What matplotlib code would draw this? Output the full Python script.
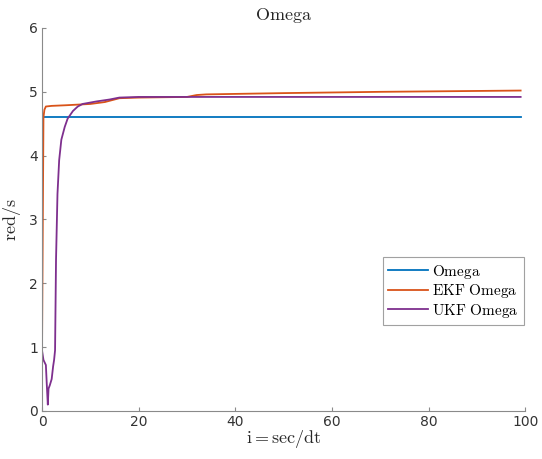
import matplotlib.pyplot as plt

# Values
omega_x = [0, 99]
omega_y = [4.60, 4.60]

ekf_x = [0.0, 0.15, 0.3, 0.5, 0.8, 2.0, 5.0, 10.0, 13.0, 16.0, 20.0, 30.0, 32.0, 34.0, 50.0, 70.0, 99.0]
ekf_y = [0.90, 2.80, 4.60, 4.72, 4.77, 4.78, 4.79, 4.81, 4.84, 4.90, 4.91, 4.92, 4.95, 4.96, 4.98, 5.00, 5.02]

ukf_x = [0.0, 0.3, 0.8, 1.0, 1.2, 1.35, 1.6, 2.0, 2.3, 2.5, 2.7, 2.9, 3.2, 3.55, 4.0, 4.7, 5.3, 6.4, 7.4, 8.4, 11.3, 14.0, 16.0, 20.0, 99.0]
ukf_y = [0.95, 0.80, 0.72, 0.40, 0.10, 0.35, 0.40, 0.50, 0.70, 0.80, 0.95, 2.37, 3.40, 3.93, 4.25, 4.45, 4.58, 4.70, 4.77, 4.81, 4.85, 4.88, 4.91, 4.92, 4.92]

plt.rcParams['mathtext.fontset'] = 'cm'
plt.rcParams['font.family'] = 'DejaVu Sans'

fig = plt.figure(figsize=(5.42, 4.59), dpi=100)
ax = fig.add_axes([0.0775, 0.1046, 0.892, 0.8344])

ax.plot(omega_x, omega_y, color='#0072BD', linewidth=1.3, label=r'$\mathrm{Omega}$')
ax.plot(ekf_x, ekf_y, color='#D95319', linewidth=1.3, label=r'$\mathrm{EKF\ Omega}$')
ax.plot(ukf_x, ukf_y, color='#7E2F8E', linewidth=1.3, label=r'$\mathrm{UKF\ Omega}$')

ax.set_xlim(0, 100)
ax.set_ylim(0, 6)
ax.set_xticks([0, 20, 40, 60, 80, 100])
ax.set_yticks([0, 1, 2, 3, 4, 5, 6])

for s in ['top', 'right']:
    ax.spines[s].set_visible(False)
for s in ['left', 'bottom']:
    ax.spines[s].set_color('#8a8a8a')
    ax.spines[s].set_linewidth(0.8)
ax.tick_params(direction='in', length=3, color='#8a8a8a', labelsize=10, labelcolor='#333333', pad=3)

ax.set_title(r'$\mathrm{Omega}$', fontsize=13, color='#262626', pad=6)
ax.set_xlabel(r'$\mathrm{i{=}sec/dt}$', fontsize=13, color='#262626', labelpad=-1)
ax.set_ylabel(r'$\mathrm{red/s}$', fontsize=13, color='#262626', labelpad=4)

leg = ax.legend(loc='lower left', bbox_to_anchor=(0.705, 0.2245), fancybox=False,
                fontsize=11, handlelength=2.6, handletextpad=0.3, borderpad=0.35,
                labelspacing=0.1, borderaxespad=0)
leg.get_frame().set_edgecolor('#8a8a8a')
leg.get_frame().set_linewidth(0.8)

fig.savefig('out.png', dpi=100)
